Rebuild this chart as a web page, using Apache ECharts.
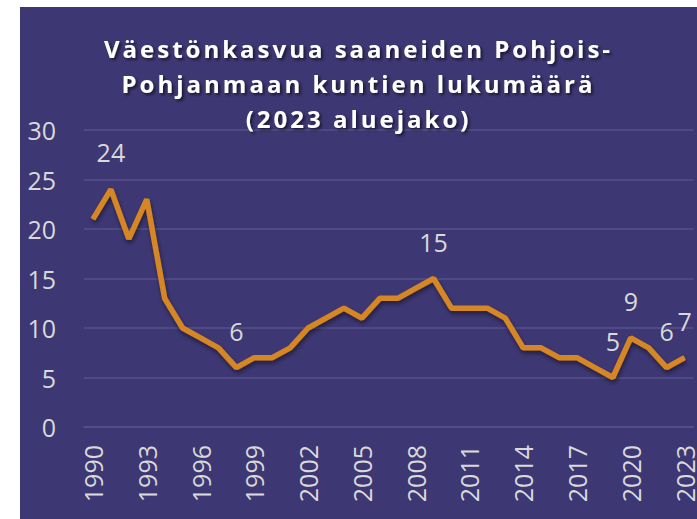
<!DOCTYPE html>
<html>
<head>
<meta charset="utf-8">
<script src="https://cdn.jsdelivr.net/npm/echarts@6/dist/echarts.min.js"></script>
<style>
html,body{margin:0;padding:0;background:#ffffff;width:697px;height:519px;overflow:hidden;}
#chart{position:absolute;left:20px;top:7px;width:677px;height:512px;background:#3d3773;}
#chart svg text[style*="bold"]{letter-spacing:3px;}
</style>
</head>
<body>
<div id="chart"></div>
<script>
const years = [1990,1991,1992,1993,1994,1995,1996,1997,1998,1999,2000,2001,2002,2003,2004,2005,2006,2007,2008,2009,2010,2011,2012,2013,2014,2015,2016,2017,2018,2019,2020,2021,2022,2023];
const counts = [21,24,19,23,13,10,9,8,6,7,7,8,10,11,12,11,13,13,14,15,12,12,12,11,8,8,7,7,6,5,9,8,6,7];
const labelledYears = [1991,1998,2009,2019,2020,2022,2023];
const yTicks = [0,5,10,15,20,25,30];
const titleText = 'Väestönkasvua saaneiden Pohjois-\nPohjanmaan kuntien lukumäärä\n(2023 aluejako)';

const chart = echarts.init(document.getElementById('chart'), null, {renderer:'svg'});
const seriesData = counts.map((v,i)=>({
  value: v,
  label: {show: labelledYears.includes(years[i])}
}));
chart.setOption({
  backgroundColor: '#3d3773',
  animation: false,
  title: {
    text: titleText,
    left: 'center',
    top: 19,
    textStyle: {
      color: '#ffffff',
      fontFamily: 'Open Sans',
      fontWeight: 'bold',
      fontSize: 24,
      lineHeight: 35,
      textShadowColor: 'rgba(0,0,0,0.6)',
      textShadowBlur: 3,
      textShadowOffsetX: 2,
      textShadowOffsetY: 2
    }
  },
  grid: {left: 64, right: 0, top: 123, bottom: 92},
  xAxis: {
    type: 'category',
    data: years.map(String),
    boundaryGap: true,
    axisLine: {show: true, lineStyle: {color: '#57518a', width: 1.5}},
    axisTick: {show: false},
    axisLabel: {
      interval: 2,
      rotate: 90,
      color: '#d9d9d9',
      fontFamily: 'Open Sans',
      fontSize: 25,
      margin: 18
    }
  },
  yAxis: {
    type: 'value',
    min: yTicks[0],
    max: yTicks[yTicks.length-1],
    interval: 5,
    axisLine: {show: false},
    axisTick: {show: false},
    splitLine: {lineStyle: {color: '#57518a', width: 1.5}},
    axisLabel: {
      color: '#d9d9d9',
      fontFamily: 'Open Sans',
      fontSize: 25,
      margin: 28
    }
  },
  series: [{
    type: 'line',
    data: seriesData,
    symbol: 'circle',
    symbolSize: 1,
    showSymbol: true,
    showAllSymbol: true,
    itemStyle: {color: '#d68622'},
    lineStyle: {
      color: '#d68622',
      width: 5.5,
      shadowColor: 'rgba(0,0,0,0.45)',
      shadowBlur: 4,
      shadowOffsetX: 1,
      shadowOffsetY: 3
    },
    label: {
      position: 'top',
      distance: 24,
      color: '#d9d9d9',
      fontFamily: 'Open Sans',
      fontSize: 25
    },
    labelLayout: {hideOverlap: false}
  }]
});
</script>
</body>
</html>
